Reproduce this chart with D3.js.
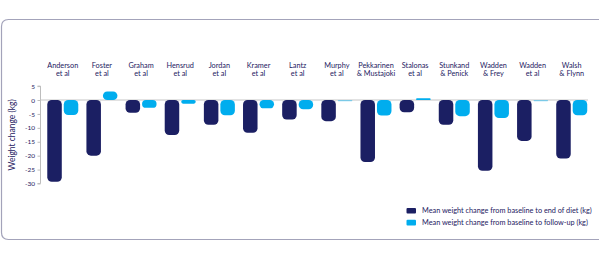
<!DOCTYPE html>
<html>
<head>
<meta charset="utf-8">
<script src="https://cdn.jsdelivr.net/npm/d3@7"></script>
<style>
  html, body { margin: 0; padding: 0; background: #fff; }
  svg { display: block; }
  text { font-family: Lato, "Open Sans", sans-serif; fill: #1d2061; }
</style>
</head>
<body>
<svg id="chart" width="612" height="260"></svg>
<script>
// ---- data ----
const categories = [
  ["Anderson", "et al"], ["Foster", "et al"], ["Graham", "et al"], ["Hensrud", "et al"],
  ["Jordan", "et al"], ["Kramer", "et al"], ["Lantz", "et al"], ["Murphy", "et al"],
  ["Pekkarinen", "& Mustajoki"], ["Stalonas", "et al"], ["Stunkand", "& Penick"],
  ["Wadden", "& Frey"], ["Wadden", "et al"], ["Walsh", "& Flynn"]
];
const endOfDiet = [-29.4, -20.0, -4.6, -12.6, -8.9, -11.8, -7.0, -7.6, -22.3, -4.4, -8.9, -25.4, -14.7, -21.0];
const followUp  = [-5.4, 3.1, -2.8, -1.3, -5.5, -3.0, -3.3, -0.3, -5.6, 0.6, -5.8, -6.5, -0.3, -5.5];
const seriesNames = [
  "Mean weight change from baseline to end of diet (kg)",
  "Mean weight change from baseline to follow-up (kg)"
];
const yTicks = [5, 0, -5, -10, -15, -20, -25, -30];
const yLabel = "Weight change (kg)";

// ---- styles ----
const colors = ["#1b1f63", "#00adee"];
const svg = d3.select("#chart");

// frame
svg.append("path")
  .attr("d", "M599,19.5 H8.5 Q1.5,19.5 1.5,26.5 V232.5 Q1.5,239.5 8.5,239.5 H599")
  .attr("fill", "none")
  .attr("stroke", "#a3a3ba")
  .attr("stroke-width", 1.2);

const keys = categories.map(c => c.join(" "));
const x = d3.scaleBand().domain(keys).range([43.2, 591.3]).paddingInner(0.208).paddingOuter(0.104);
const xs = d3.scaleBand().domain([0, 1]).range([0, x.bandwidth()]).paddingInner(0.12).paddingOuter(0);
const y = d3.scaleLinear().domain([-30, 5]).range([183.5, 86.1]);

// y axis
const yAxis = d3.axisLeft(y).tickValues(yTicks).tickSize(3).tickPadding(2.5).tickFormat(d3.format("d"));
const ga = svg.append("g").attr("transform", "translate(40.5,0)").call(yAxis);
ga.select(".domain").attr("stroke", "#bdbdbd").attr("d", `M-3,${y(5)}H0V${y(-30)}H-3`);
ga.selectAll(".tick line").attr("stroke", "#bdbdbd");
ga.selectAll(".tick text").style("font-size", "6.5px").attr("fill", "#1d2061")
  .style("font-family", "Lato, sans-serif").text(d => d3.format("d")(d).replace("−", "-"));

// zero line
svg.append("line")
  .attr("x1", 40.5).attr("x2", 588)
  .attr("y1", y(0)).attr("y2", y(0))
  .attr("stroke", "#c4c4c4").attr("stroke-width", 1);

// bars
const series = [endOfDiet, followUp];
const groups = svg.append("g").selectAll("g").data(keys).join("g")
  .attr("transform", d => `translate(${x(d)},0)`);

groups.each(function(k, i) {
  const g = d3.select(this);
  series.forEach((s, j) => {
    const v = s[i];
    const y0 = y(Math.max(0, v)), y1 = y(Math.min(0, v));
    const h = Math.max(1.2, y1 - y0);
    const r = Math.min(4.5, h / 2);
    g.append("rect")
      .attr("x", xs(j)).attr("width", xs.bandwidth())
      .attr("y", v >= 0 ? y1 - h : y0).attr("height", h)
      .attr("rx", r).attr("ry", r)
      .attr("fill", colors[j])
      .attr("opacity", Math.abs(v) < 0.5 ? 0.45 : 1);
  });
  const t = g.append("text")
    .attr("x", x.bandwidth() / 2)
    .attr("text-anchor", "middle")
    .style("font-size", "7.3px");
  t.append("tspan").attr("x", x.bandwidth() / 2).attr("y", 68).text(categories[i][0]);
  t.append("tspan").attr("x", x.bandwidth() / 2).attr("y", 75.5).text(categories[i][1]);
});

// y label
svg.append("text")
  .attr("transform", `translate(15,${(y(5) + y(-30)) / 2}) rotate(-90)`)
  .attr("text-anchor", "middle")
  .style("font-size", "8.5px")
  .text(yLabel);

// legend
const lg = svg.append("g").attr("transform", "translate(406.5,208)");
seriesNames.forEach((n, j) => {
  lg.append("rect").attr("x", 0).attr("y", j * 11.8).attr("width", 9.5).attr("height", 5.6)
    .attr("rx", 1).attr("fill", colors[j]);
  lg.append("text").attr("x", 15.5).attr("y", j * 11.8 + 5.4)
    .style("font-size", "7.3px").text(n);
});
</script>
</body>
</html>
